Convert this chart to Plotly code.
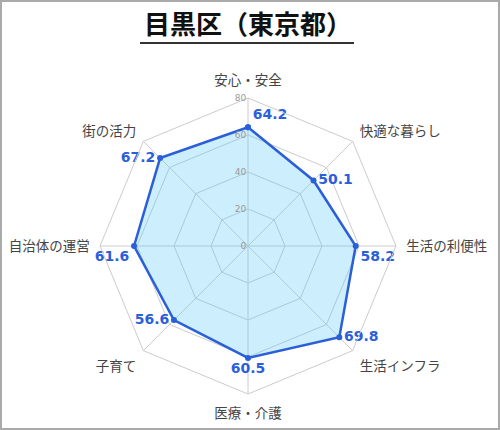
import plotly.graph_objects as go

categories = ["安心・安全", "快適な暮らし", "生活の利便性", "生活インフラ",
              "医療・介護", "子育て", "自治体の運営", "街の活力"]
scores = [64.2, 50.1, 58.2, 69.8, 60.5, 56.6, 61.6, 67.2]
radial_ticks = [0, 20, 40, 60, 80]
title_text = "目黒区（東京都）"

W, H = 500, 430
cx, cy, rad = 248, 246, 148

label_pos = ["top right", "middle right", "bottom right", "middle right",
             "bottom center", "middle left", "bottom left", "middle left"]

fig = go.Figure()
fig.add_trace(go.Scatterpolar(
    r=scores + [scores[0]],
    theta=categories + [categories[0]],
    mode="lines+markers+text",
    text=[f"{v:.1f}" for v in scores] + [""],
    textposition=label_pos + ["top right"],
    textfont=dict(family="DejaVu Sans", size=14, color="#2b5fd9", weight="bold"),
    line=dict(color="#2b5fd9", width=2.5),
    marker=dict(color="#2b5fd9", size=6),
    fill="toself",
    fillcolor="rgba(88,198,245,0.3)",
    showlegend=False,
    cliponaxis=False,
))

fig.update_layout(
    width=W, height=H,
    margin=dict(l=0, r=0, t=0, b=0),
    paper_bgcolor="white",
    font=dict(family="Noto Sans CJK JP", color="#444"),
    title=dict(text=f"<b>{title_text}</b>", x=cx / W, xanchor="center",
               y=1 - 25 / H, yanchor="middle", yref="container",
               font=dict(size=26, color="#111")),
    polar=dict(
        domain=dict(x=[(cx - rad) / W, (cx + rad) / W],
                    y=[(H - cy - rad) / H, (H - cy + rad) / H]),
        bgcolor="rgba(0,0,0,0)",
        gridshape="linear",
        radialaxis=dict(range=[0, 80], tickvals=radial_ticks, angle=90,
                        tickangle=90, side="counterclockwise", showline=False,
                        gridcolor="#cccccc", ticks="",
                        tickfont=dict(family="DejaVu Sans", size=9, color="#999")),
        angularaxis=dict(rotation=90, direction="clockwise",
                         gridcolor="#cccccc", linecolor="#cccccc",
                         showline=True, ticks="outside", ticklen=7,
                         tickcolor="rgba(0,0,0,0)",
                         tickfont=dict(size=13.5, color="#444")),
    ),
    shapes=[
        dict(type="line", xref="paper", yref="paper",
             x0=140 / W, x1=354 / W, y0=1 - 43 / H, y1=1 - 43 / H,
             line=dict(color="#333", width=2)),
        dict(type="rect", xref="paper", yref="paper",
             x0=1 / W, x1=1 - 1 / W, y0=1 / H, y1=1 - 1 / H,
             line=dict(color="#aaaaaa", width=2)),
    ],
)

fig.write_html("out.html", config={"displayModeBar": False},
               post_script="document.body.style.margin='0';")
